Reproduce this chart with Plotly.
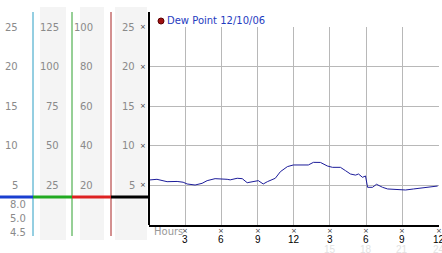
import plotly.graph_objects as go

W, H = 442, 253

# ---- data ----
hours = [0, 0.66, 1.5, 2.33, 2.83, 3.16, 3.82, 4.4, 4.82, 5.48, 6.48, 6.73, 7.31, 7.73,
         8.14, 8.64, 9.06, 9.47, 9.81, 10.47, 10.89, 11.47, 11.97, 13.21, 13.63, 14.21,
         14.79, 15.21, 15.87, 16.29, 16.7, 17.12, 17.37, 17.7, 17.95, 18.12, 18.53,
         18.86, 19.36, 19.78, 20.61, 21.27, 21.94, 22.69, 23.6, 23.93]
dew_point = [5.68, 5.77, 5.47, 5.5, 5.4, 5.18, 5.05, 5.26, 5.6, 5.85, 5.77, 5.7, 5.9, 5.85,
             5.34, 5.43, 5.6, 5.18, 5.47, 5.9, 6.73, 7.37, 7.58, 7.58, 7.91, 7.9,
             7.45, 7.28, 7.28, 6.86, 6.44, 6.3, 6.44, 6.02, 6.19, 4.76, 4.76,
             5.14, 4.76, 4.55, 4.5, 4.42, 4.55, 4.71, 4.84, 4.92]

y_ticks = [5, 10, 15, 20, 25]
col1_labels = ["5", "10", "15", "20", "25"]
col2_labels = ["25", "50", "75", "100", "125"]
col3_labels = ["20", "40", "60", "80", "100"]
col4_labels = ["5", "10", "15", "20", "25"]
extra_labels = ["8.0", "5.0", "4.5"]

x_ticks = [3, 6, 9, 12, 15, 18, 21, 24]
x_tick_text = ["3", "6", "9", "12", "3", "6", "9", "12"]
x_tick_text2 = ["", "", "", "", "15", "18", "21", "24"]

legend_text = "Dew Point 12/10/06"


def px(x):
    return x / W


def py(y):
    return 1 - y / H


fig = go.Figure()

fig.add_trace(go.Scatter(x=hours, y=dew_point, mode="lines",
                         line=dict(color="#1c1c9a", width=1), showlegend=False,
                         hoverinfo="skip"))

annotations = []
tick_mark_font = dict(family="DejaVu Sans", size=7, color="#333")
# small x-shaped tick marks on left axis and bottom axis
for v in y_ticks:
    annotations.append(dict(x=px(146.5), y=v, xref="paper", yref="y", text="×",
                            showarrow=False, xanchor="right", yanchor="middle",
                            xshift=1, font=tick_mark_font))
for v in x_ticks:
    annotations.append(dict(x=v, y=py(230.5), xref="x", yref="paper", text="×",
                            showarrow=False, xanchor="center", yanchor="middle",
                            font=tick_mark_font))

shapes = []
# grey bands
for x0, x1 in [(40, 66), (80, 104), (115, 147)]:
    shapes.append(dict(type="rect", xref="paper", yref="paper",
                       x0=px(x0), x1=px(x1), y0=py(240), y1=py(7),
                       fillcolor="#f4f4f4", line=dict(width=0), layer="below"))
# coloured vertical lines
for x, c in [(33, "#2a9ec4"), (72, "#2ea02e"), (111, "#a82222")]:
    shapes.append(dict(type="line", xref="paper", yref="paper",
                       x0=px(x), x1=px(x), y0=py(236), y1=py(12),
                       line=dict(color=c, width=1)))
# thick horizontal baseline segments
for x0, x1, c in [(0, 33, "#1a3fd0"), (33, 72, "#22aa22"), (72, 111, "#dd2222"),
                  (111, 149, "#000000")]:
    shapes.append(dict(type="line", xref="paper", yref="paper",
                       x0=px(x0), x1=px(x1), y0=py(197), y1=py(197),
                       line=dict(color=c, width=3)))
# left black axis
shapes.append(dict(type="line", xref="paper", yref="paper",
                   x0=px(149), x1=px(149), y0=py(225), y1=py(12),
                   line=dict(color="#000", width=2)))
# legend dot
shapes.append(dict(type="circle", xref="paper", yref="paper",
                   x0=px(158), x1=px(164), y0=py(24), y1=py(18),
                   fillcolor="#a01010", line=dict(color="#5a0000", width=1)))

grey = "#8a8a8a"
fnt = dict(family="DejaVu Sans", size=10, color=grey)
for cols, xr in [(col1_labels, 20), (col2_labels, 61), (col3_labels, 95),
                 (col4_labels, 137)]:
    for v, t in zip(y_ticks, cols):
        annotations.append(dict(x=px(xr), y=v, xref="paper", yref="y", text=t,
                                showarrow=False, xanchor="right", yanchor="middle",
                                font=fnt))
for t, yy in zip(extra_labels, [204, 218.5, 232.5]):
    annotations.append(dict(x=px(27.5), y=py(yy), xref="paper", yref="paper", text=t,
                            showarrow=False, xanchor="right", yanchor="middle",
                            font=fnt))
# hour labels
for v, t, t2 in zip(x_ticks, x_tick_text, x_tick_text2):
    annotations.append(dict(x=v, y=py(239.5), xref="x", yref="paper", text=t,
                            showarrow=False, xanchor="center", yanchor="middle",
                            font=dict(family="Liberation Sans", size=10, color="#000")))
    if t2:
        annotations.append(dict(x=v, y=py(249), xref="x", yref="paper", text=t2,
                                showarrow=False, xanchor="center", yanchor="middle",
                                font=dict(family="Liberation Sans", size=10,
                                          color="#e2e2e2")))
annotations.append(dict(x=px(152), y=py(231), xref="paper", yref="paper", text="Hours",
                        showarrow=False, xanchor="left", yanchor="middle",
                        font=dict(family="DejaVu Sans", size=10, color="#999")))
annotations.append(dict(x=px(165), y=py(21), xref="paper", yref="paper",
                        text=legend_text, showarrow=False, xanchor="left",
                        yanchor="middle",
                        font=dict(family="DejaVu Sans", size=10, color="#1f3cbf")))

fig.update_layout(
    width=W, height=H, margin=dict(l=0, r=0, t=0, b=0),
    paper_bgcolor="white", plot_bgcolor="white",
    xaxis=dict(domain=[px(149), px(438.5)], range=[0, 24], tickvals=x_ticks,
               showticklabels=False, ticks="", showgrid=True, gridcolor="#b8b8b8",
               gridwidth=1, zeroline=False, showline=True, linecolor="#000",
               linewidth=2, fixedrange=True),
    yaxis=dict(domain=[py(225), py(27)], range=[0, 25], tickvals=y_ticks,
               showticklabels=False, ticks="", showgrid=True, gridcolor="#b8b8b8",
               gridwidth=1, zeroline=False, showline=False, fixedrange=True),
    shapes=shapes, annotations=annotations, showlegend=False,
)

fig.write_html("out.html")
